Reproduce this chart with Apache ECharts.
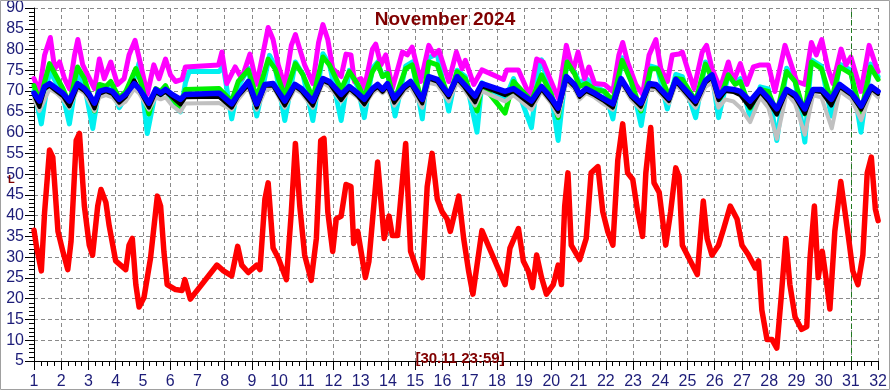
<!DOCTYPE html>
<html>
<head>
<meta charset="utf-8">
<script src="https://cdn.jsdelivr.net/npm/echarts@6/dist/echarts.min.js"></script>
<style>
html,body{margin:0;padding:0;background:#fff;}
#chart{width:890px;height:390px;}
</style>
</head>
<body>
<div id="chart"></div>
<script>
const titleText = 'November 2024';
const stampText = '[30.11 23:59]';
const markerDay = 31;

const redData = [[1.0,36.5],[1.09,32.6],[1.27,26.7],[1.39,40.9],[1.57,55.8],[1.69,54.1],[1.88,36.2],[2.06,31.4],[2.24,27],[2.36,33.8],[2.55,58.1],[2.67,59.8],[2.85,42.3],[3.03,32.9],[3.15,30.5],[3.34,42.3],[3.46,46.3],[3.64,43.2],[3.76,37.6],[4.0,29.1],[4.37,27],[4.49,32.9],[4.61,34.5],[4.74,23.4],[4.86,18],[5.04,20.3],[5.28,29.8],[5.53,44.7],[5.65,42.3],[5.77,31.4],[5.89,23.4],[6.2,22.2],[6.44,22],[6.54,24.6],[6.74,19.9],[7.72,28.1],[7.96,26.7],[8.26,25.5],[8.48,32.6],[8.63,28.1],[8.87,26.3],[9.18,28.1],[9.3,27],[9.48,44],[9.6,47.9],[9.78,32.2],[9.97,29.8],[10.27,24.6],[10.45,40.9],[10.6,57.4],[10.76,42.3],[10.94,30.5],[11.18,24.4],[11.37,34.5],[11.53,58.1],[11.65,58.6],[11.79,40.9],[11.97,31.4],[12.1,39.2],[12.28,39.9],[12.46,47.5],[12.64,47],[12.74,33.3],[12.89,36.2],[13.17,25.1],[13.3,29],[13.62,52.9],[13.86,34.5],[14.04,39.9],[14.16,35.2],[14.35,35.2],[14.65,57.4],[14.83,31.4],[15.08,26.7],[15.26,25.1],[15.44,47],[15.62,55],[15.81,44],[15.99,40.9],[16.17,39.2],[16.29,36.2],[16.6,44.7],[16.78,34.5],[16.96,26.7],[17.12,21.1],[17.27,28.1],[17.45,36.4],[17.88,29.8],[18.3,23.4],[18.48,32.2],[18.79,36.9],[18.97,29.1],[19.15,26.7],[19.31,22.7],[19.46,30.5],[19.64,25.1],[19.82,21.1],[20.07,23.4],[20.25,28.1],[20.37,23.4],[20.49,42.3],[20.61,50.3],[20.73,32.9],[21.04,29.4],[21.28,34.5],[21.46,50.3],[21.71,51.8],[21.89,40.9],[22.07,36.2],[22.26,32.9],[22.44,53.4],[22.62,62.1],[22.8,50.3],[22.99,48.7],[23.17,40.9],[23.35,35],[23.47,50.3],[23.65,61.2],[23.77,47.9],[23.96,45.6],[24.2,32.9],[24.38,40.9],[24.57,51.5],[24.69,49.4],[24.81,32.9],[25.05,29.8],[25.36,25.8],[25.58,43.5],[25.72,34.5],[25.9,30.5],[26.14,32.9],[26.33,36.9],[26.57,42.3],[26.82,39.2],[27,32.9],[27.24,30.5],[27.49,27.4],[27.61,29.1],[27.73,17.3],[27.92,10.2],[28.1,10.2],[28.28,8.1],[28.44,20.3],[28.61,34.5],[28.76,23.4],[28.95,15.6],[29.19,12.6],[29.38,13.3],[29.5,29.8],[29.66,42.3],[29.8,25.1],[29.95,31.4],[30.07,25.8],[30.23,17.5],[30.41,36.2],[30.63,48.2],[30.77,41.6],[30.95,32.9],[31.07,26.7],[31.26,23.4],[31.44,30.5],[31.6,50.3],[31.75,54.1],[31.9,41.6],[32.0,38.8]];

const magentaData = [[1,73],[1.2,69.9],[1.39,78.7],[1.6,82.9],[1.76,75.4],[1.94,77],[2.12,73],[2.3,70.6],[2.49,78.7],[2.61,82.4],[2.79,76.3],[2.97,73.9],[3.22,70.6],[3.4,77.7],[3.58,73],[3.82,77],[4.07,71.6],[4.31,73],[4.49,78.7],[4.71,82.2],[4.92,76.3],[5.16,69.2],[5.4,76.3],[5.59,73],[5.83,77.7],[6.01,73.9],[6.2,72.3],[6.44,72.8],[6.56,75.8],[7.78,76.3],[7.9,79.4],[8.08,71.8],[8.39,75.8],[8.63,73],[8.93,78.9],[9.18,71.6],[9.42,79.4],[9.6,85.3],[9.78,82.4],[9.97,76.3],[10.21,71.1],[10.45,81],[10.6,83.6],[10.76,80.1],[10.94,76.3],[11.24,71.8],[11.45,81.7],[11.61,86],[11.79,82.4],[11.97,75.4],[12.28,73.5],[12.46,78.9],[12.64,78.7],[12.77,72.3],[13.01,73],[13.13,70.6],[13.43,80.1],[13.55,81.3],[13.74,76.3],[13.92,78.7],[14.16,70.6],[14.53,79.4],[14.71,78.7],[14.89,80.6],[15.2,72.3],[15.5,81],[15.69,78.7],[15.87,79.8],[16.23,72.3],[16.51,79.4],[16.72,75.4],[16.84,77.4],[17.15,71.6],[17.45,75.1],[18.24,72.8],[18.36,75.1],[18.79,75.1],[19.21,68.8],[19.46,77.7],[19.7,77],[19.95,73],[20.25,68.3],[20.55,81],[20.79,74.7],[20.98,79.4],[21.22,73],[21.38,75.8],[21.59,71.8],[21.95,71.6],[22.26,69.9],[22.48,78.7],[22.62,81.7],[22.8,77],[23.1,71.6],[23.35,69.2],[23.59,78.7],[23.84,82.4],[24.02,75.4],[24.26,72.3],[24.44,78.7],[24.69,78.9],[24.81,79.4],[25,75.4],[25.24,70.6],[25.54,79.4],[25.7,81],[25.9,75.4],[26.2,70.6],[26.5,77],[26.69,72.3],[26.94,76.6],[27.18,71.6],[27.42,75.8],[27.67,76.3],[27.97,76.3],[28.21,69.9],[28.58,81],[28.76,77.4],[29.01,72.3],[29.31,71.6],[29.55,81.7],[29.73,78.7],[29.93,82.4],[30.16,75.4],[30.34,71.8],[30.64,80.1],[30.82,76.3],[31,78.2],[31.37,69.9],[31.67,81],[31.91,76.3],[32,74.7]];

const greenData = [[1,71.3],[1.2,67.6],[1.57,76.6],[1.82,73.5],[2.06,70.6],[2.3,66.9],[2.6,75.8],[2.85,73],[3.22,65.2],[3.4,71.6],[3.64,71.1],[3.82,72.3],[4.13,68.3],[4.37,69.9],[4.74,75.4],[4.92,72.3],[5.22,64.5],[5.47,70.6],[5.65,69.9],[5.83,71.3],[6.07,68.3],[6.38,65.9],[6.56,70.4],[7.8,70.6],[8.26,67.6],[8.5,72.3],[8.87,75.1],[9.18,68.3],[9.6,77.7],[9.85,75.4],[10.21,68.8],[10.6,76.6],[10.88,73.9],[11.24,68.3],[11.61,78.2],[11.85,76.3],[12.28,70.4],[12.58,74.7],[12.89,71.6],[13.13,68.3],[13.43,74.7],[13.62,76.6],[13.8,73.5],[13.98,74.2],[14.23,67.6],[14.65,75.4],[14.89,76.3],[15.26,66.9],[15.5,77],[15.81,76.3],[16.23,68.3],[16.54,74.7],[16.84,73],[17.27,65.2],[17.45,71.6],[18.3,64.7],[18.61,72.3],[19.27,67.6],[19.64,73.9],[20,69.2],[20.25,63.6],[20.58,77],[20.85,74.2],[21.04,71.1],[21.28,71.8],[21.59,70.4],[21.95,69.9],[22.26,67.6],[22.6,77.4],[22.93,72.3],[23.29,65.2],[23.65,75.4],[23.9,75.4],[24.32,68.8],[24.57,73],[24.81,72.8],[25.3,67.6],[25.66,76.5],[25.9,73],[26.2,68.3],[26.5,73.9],[26.75,71.6],[26.94,72.3],[27.3,65.9],[27.67,70.4],[27.97,69.9],[28.28,64.7],[28.64,74.7],[28.95,72.3],[29.31,64.5],[29.55,77],[29.92,75.4],[30.28,67.6],[30.59,75.8],[31,74.2],[31.37,64.7],[31.72,75.8],[32,72.8]];

const cyanData = [[1,70],[1.27,62.1],[1.57,75],[1.82,72],[2.06,69],[2.3,62.1],[2.6,74.5],[2.85,71.5],[3.16,61],[3.4,71],[3.64,70.5],[3.82,71.5],[4.13,66],[4.37,68.5],[4.74,74],[4.86,76.8],[5.16,59.8],[5.47,70],[5.65,69],[5.83,71],[6.07,67],[6.38,65],[6.56,72],[6.7,74.7],[7.8,74.7],[7.95,76],[8.26,63.3],[8.5,71],[8.87,75.5],[9.18,64],[9.65,78.6],[9.85,76],[10.21,62.9],[10.6,77],[10.88,74],[11.24,62.9],[11.61,79],[11.85,76.5],[12.28,62.9],[12.58,75],[12.89,71],[13.13,63.6],[13.43,75.5],[13.62,77],[13.8,73.5],[13.98,74.5],[14.26,64],[14.65,76],[14.89,77],[15.26,63.3],[15.5,78],[15.81,79],[16.23,65.2],[16.54,75],[16.84,73.5],[17.27,60.1],[17.45,72],[18.3,68],[18.61,73],[19.27,61.2],[19.55,76],[19.64,77.5],[20,69],[20.25,58.1],[20.58,77.5],[20.85,74.5],[21.04,72],[21.28,73],[21.59,71],[21.95,70],[22.26,63.3],[22.6,78],[22.93,72.5],[23.3,61.7],[23.65,76],[23.9,75.5],[24.26,65.7],[24.57,74],[24.81,73.5],[25.3,63.6],[25.66,77],[25.9,74],[26.14,63.6],[26.5,74],[26.75,72],[26.94,73],[27.3,63.6],[27.67,71],[27.97,70.5],[28.28,58.1],[28.64,75.5],[28.95,72.5],[29.31,57.7],[29.55,77.5],[29.92,76],[30.28,64],[30.59,76.5],[31,75],[31.37,60.1],[31.72,76.5],[32,73.5]];

const grayData = [[1,68],[1.2,65.2],[1.57,70.5],[1.82,69.5],[2.06,68],[2.3,65.9],[2.6,70.5],[2.85,69.5],[3.22,65.2],[3.4,68.5],[3.64,69],[3.88,68.5],[4.13,66.5],[4.37,67.5],[4.68,70.5],[4.86,69.5],[5.22,65.5],[5.47,68.5],[5.65,68],[5.83,68.5],[6.07,66.5],[6.38,65],[6.56,67],[7.8,67.1],[8.26,65.5],[8.5,68],[8.87,71],[9.18,65.5],[9.48,70],[9.78,71],[10.21,66],[10.58,70.5],[10.82,69.5],[11.24,66],[11.61,72],[11.85,71],[12.28,67.5],[12.58,70],[12.89,68.5],[13.13,66.5],[13.43,69.5],[13.62,70.5],[13.8,69.5],[13.98,70.5],[14.23,66.5],[14.59,70],[14.83,71],[15.26,66],[15.5,72],[15.81,71.5],[16.23,67.5],[16.54,72],[16.78,70.5],[17.2,66.5],[17.45,70],[18.3,67.5],[18.61,69],[19.27,65.5],[19.64,70],[20,67],[20.25,64],[20.55,72],[20.85,70.5],[21.04,68],[21.28,69.5],[21.59,68.5],[21.89,67],[22.26,65.5],[22.56,72],[22.93,68],[23.29,65.5],[23.59,70.5],[23.84,70.5],[24.32,67],[24.57,71.5],[24.81,70],[25.3,66],[25.66,71],[25.9,72],[26.14,66],[26.39,68],[26.69,67.5],[26.94,66],[27.3,62.5],[27.67,68.5],[27.97,66],[28.28,58.5],[28.64,69.5],[28.95,67],[29.31,59.5],[29.61,69],[29.92,68.5],[30.3,61],[30.59,70],[31.02,68],[31.38,63],[31.75,70],[32,68.5]];

const blackData = [[1,69],[1.2,66.2],[1.39,70.5],[1.57,71.3],[1.82,70],[2.06,68.8],[2.3,66.3],[2.6,71.2],[2.85,70],[3.03,68.5],[3.22,65.8],[3.4,69.3],[3.64,70],[3.88,69.3],[4.13,67.2],[4.37,68.6],[4.68,72.6],[4.86,70.5],[5.22,66],[5.47,69.8],[5.65,69],[5.83,69.8],[6.07,68.5],[6.38,66.8],[6.56,68.5],[7.8,68.6],[8.26,66],[8.5,68.8],[8.87,71.5],[9.18,66],[9.48,71.3],[9.78,71.3],[10.21,66.5],[10.58,71.2],[10.82,70],[11.24,66.5],[11.61,72.5],[11.85,71.8],[12.28,67.8],[12.58,70.6],[12.89,68.8],[13.13,66.8],[13.43,70],[13.62,71],[13.8,69.8],[13.98,71.2],[14.23,67.2],[14.59,70.5],[14.83,71.8],[15.26,67],[15.5,73],[15.81,72.3],[16.23,68.5],[16.54,73],[16.78,71.2],[17.2,67.3],[17.45,71.2],[18.3,69],[18.61,70],[19.27,66.6],[19.64,70.5],[20,67.5],[20.25,65],[20.55,73],[20.85,71],[21.04,68.6],[21.28,70],[21.59,69],[21.89,67.8],[22.26,66],[22.56,72.5],[22.93,68.6],[23.29,66.2],[23.59,71.2],[23.84,71],[24.32,67.6],[24.57,72.3],[24.81,70.5],[25.3,66.8],[25.66,72],[25.9,73.3],[26.14,67.8],[26.39,70],[26.69,69.8],[26.94,69],[27.3,66],[27.67,69.8],[27.97,67.5],[28.28,64.3],[28.64,70],[28.95,68.5],[29.31,64.5],[29.61,70],[29.92,69.8],[30.28,66.5],[30.59,71],[31.02,69],[31.38,65.5],[31.75,70.5],[32,69.3]];

const blueData = [[1,69.5],[1.2,67.6],[1.39,71.1],[1.57,71.8],[1.82,70.6],[2.06,69.5],[2.3,67.6],[2.6,71.8],[2.85,70.6],[3.03,69.2],[3.22,67.1],[3.4,69.9],[3.64,70.4],[3.88,69.9],[4.13,68],[4.37,69.2],[4.68,71.8],[4.86,70.6],[5.22,67.1],[5.47,70.4],[5.65,69.5],[5.83,70.4],[6.07,69.2],[6.38,68],[6.56,69.2],[7.8,69.5],[8.26,66.9],[8.5,69.2],[8.87,72.3],[9.18,66.9],[9.48,71.6],[9.78,71.8],[10.21,67.6],[10.58,71.6],[10.82,70.6],[11.24,67.6],[11.61,73],[11.85,72.3],[12.28,69.2],[12.58,71.1],[12.89,69.5],[13.13,68],[13.43,70.6],[13.62,71.6],[13.8,70.4],[13.98,71.8],[14.23,68.3],[14.59,71.1],[14.83,72.3],[15.26,68],[15.5,73.5],[15.81,72.8],[16.23,69.2],[16.54,73.5],[16.78,71.8],[17.2,68.8],[17.45,71.8],[18.3,69.9],[18.61,70.6],[19.27,67.6],[19.64,71.1],[19.7,71.1],[20,68.3],[20.25,65.9],[20.55,73.5],[20.85,71.6],[21.04,69.2],[21.28,70.6],[21.59,69.5],[21.89,68.3],[22.26,66.9],[22.56,73],[22.93,69.2],[23.29,67.1],[23.59,71.8],[23.84,71.6],[24.32,68.3],[24.57,72.8],[24.81,71.1],[25.3,67.6],[25.66,72.5],[25.9,73.9],[26.14,68.8],[26.39,70.6],[26.69,70.4],[26.94,69.9],[27.3,67.6],[27.67,70.4],[27.97,68.3],[28.28,65.7],[28.64,70.4],[28.95,69.2],[29.31,65.7],[29.61,70.4],[29.92,70.4],[30.28,68],[30.59,71.6],[31.02,69.5],[31.38,66.4],[31.75,71.1],[32,69.9]];

const chart = echarts.init(document.getElementById('chart'), null, {renderer: 'canvas'});
const FONT = '"Liberation Sans", Arial, sans-serif';
const gridLine = {show: true, lineStyle: {color: '#8a8a8a', type: [4, 3], width: 1}};

function line(name, data, color, width, z) {
  return {
    name: name, type: 'line', data: data, showSymbol: false, symbol: 'none',
    smooth: false, animation: false, z: z,
    lineStyle: {color: color, width: width, join: 'round', cap: 'round'},
    emphasis: {disabled: true}
  };
}

const series = [
  line('cyan', cyanData, '#00f0f0', 5, 2),
  line('magenta', magentaData, '#ff00ff', 5, 3),
  line('green', greenData, '#00f000', 5, 4),
  line('gray', grayData, '#c0c0c0', 4, 5),
  line('black', blackData, '#000000', 4, 6),
  line('blue', blueData, '#0000ff', 5.5, 7),
  line('red', redData, '#ff0000', 5.5, 8)
];
series[6].markLine = {
  silent: true, symbol: ['none', 'none'], label: {show: false},
  lineStyle: {color: '#1f7a1f', type: [5, 3], width: 1},
  data: [{xAxis: markerDay}]
};

chart.setOption({
  backgroundColor: '#ffffff',
  animation: false,
  grid: {left: 34, top: 4, width: 850, height: 361, containLabel: false},
  xAxis: {
    type: 'value', min: 1, max: 32, interval: 1,
    axisLine: {show: true, lineStyle: {color: '#000', width: 1}},
    axisTick: {show: true, length: 9, lineStyle: {color: '#000'}},
    minorTick: {show: true, splitNumber: 4, length: 5, lineStyle: {color: '#000'}},
    axisLabel: {color: '#1c1c78', fontSize: 16, fontFamily: FONT, margin: 13},
    splitLine: gridLine
  },
  yAxis: {
    type: 'value', min: 5, max: 90, interval: 5,
    axisLine: {show: true, lineStyle: {color: '#000', width: 1}},
    axisTick: {show: true, length: 9, lineStyle: {color: '#000'}},
    minorTick: {show: true, splitNumber: 5, length: 5, lineStyle: {color: '#000'}},
    axisLabel: {color: '#1c1c78', fontSize: 16, fontFamily: FONT, margin: 10},
    splitLine: gridLine
  },
  graphic: [
    {type: 'rect', silent: true, z: 100, shape: {x: 0.5, y: 0.5, width: 889, height: 389},
     style: {fill: 'none', stroke: '#a0a0a0', lineWidth: 1}},
    {type: 'text', silent: true, z: 100, x: 445, y: 20,
     style: {text: titleText, fill: '#800000', font: 'bold 19px ' + FONT, textAlign: 'center', textVerticalAlign: 'middle'}},
    {type: 'text', silent: true, z: 100, x: 460, y: 359,
     style: {text: stampText, fill: '#800000', font: 'bold 15px ' + FONT, textAlign: 'center', textVerticalAlign: 'middle'}},
    {type: 'text', silent: true, z: 100, x: 8, y: 174,
     style: {text: 'L', fill: '#800000', font: 'bold 11px ' + FONT}}
  ],
  series: series
});
</script>
</body>
</html>
